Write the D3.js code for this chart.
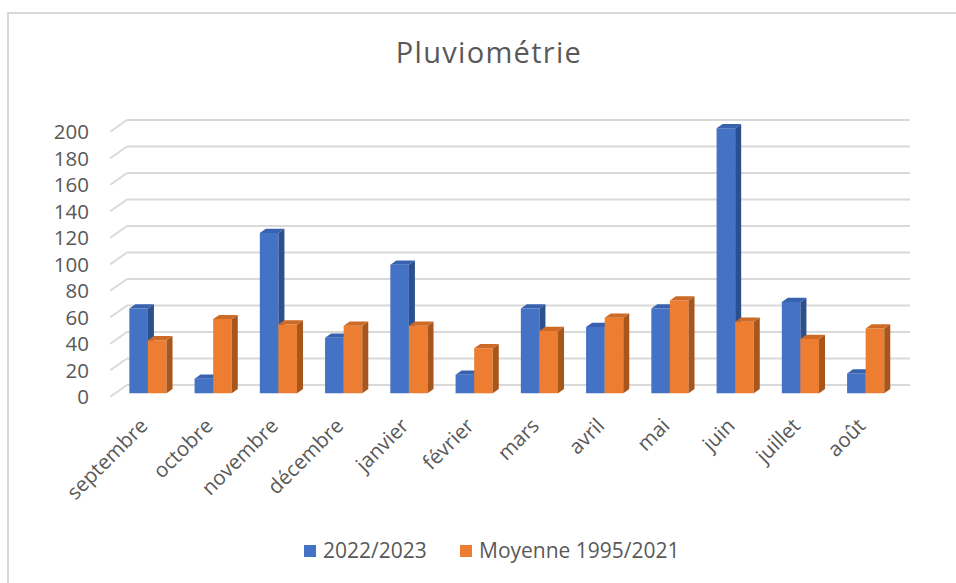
<!DOCTYPE html>
<html>
<head>
<meta charset="utf-8">
<script src="https://cdn.jsdelivr.net/npm/d3@7"></script>
<style>
  body { margin: 0; background: #fff; }
  #chart text { font-family: "Open Sans", sans-serif; fill: #595959; }
</style>
</head>
<body>
<div id="chart"></div>
<script>
// Données
const mois = ['septembre', 'octobre', 'novembre', 'décembre', 'janvier', 'février',
  'mars', 'avril', 'mai', 'juin', 'juillet', 'août'];
const pluie2022 = [64, 11, 121, 42, 97, 14, 64, 50, 64, 200, 69, 15];
const moyenne = [40, 56, 52, 51, 51, 34, 47, 57, 70, 54, 41, 49];
const graduations = [0, 20, 40, 60, 80, 100, 120, 140, 160, 180, 200];
const series = ['2022/2023', 'Moyenne 1995/2021'];

const width = 956;
const height = 583;

// couleurs : face avant, côté, dessus
const couleurs = [
  { face: '#4472C4', cote: '#2C4F8E', dessus: '#3862AE' },
  { face: '#ED7D31', cote: '#A9561C', dessus: '#CD6A26' }
];

// décalages pour l'effet 3D (avant -> arrière)
const sol = { dx: 16.7, dy: -11.7 };
const recul = { dx: 11.7, dy: -8.3 };
const epaisseur = { dx: 6, dy: -4.2 };

const svg = d3.select('#chart')
  .append('svg')
  .attr('width', width)
  .attr('height', height);

// cadre
svg.append('path')
  .attr('d', `M8,${height} L8,13 L${width},13`)
  .attr('fill', 'none')
  .attr('stroke', '#d9d9d9')
  .attr('stroke-width', 2);

svg.append('text')
  .attr('x', 489)
  .attr('y', 63)
  .attr('text-anchor', 'middle')
  .style('font-size', '29px')
  .style('letter-spacing', '1.3px')
  .text('Pluviométrie');

const x = d3.scaleBand()
  .domain(mois)
  .range([127, 910])
  .paddingInner(0.43)
  .paddingOuter(0.215);

const xSerie = d3.scaleBand()
  .domain(series)
  .range([0, x.bandwidth()]);

// échelle du mur du fond
const y = d3.scaleLinear()
  .domain([0, 200])
  .range([385, 120]);

// quadrillage
const grille = svg.append('g');
grille.selectAll('line.h')
  .data(graduations)
  .join('line')
  .attr('class', 'h')
  .attr('x1', 127)
  .attr('x2', 910)
  .attr('y1', d => y(d))
  .attr('y2', d => y(d))
  .attr('stroke', '#d9d9d9')
  .attr('stroke-width', 2);

grille.selectAll('line.d')
  .data(graduations)
  .join('line')
  .attr('class', 'd')
  .attr('x1', 127 - sol.dx)
  .attr('x2', 127)
  .attr('y1', d => y(d) - sol.dy)
  .attr('y2', d => y(d))
  .attr('stroke', '#d9d9d9')
  .attr('stroke-width', 2);

// axe vertical
const axeY = svg.append('g')
  .attr('transform', `translate(89, ${-sol.dy + 0.5})`)
  .call(d3.axisLeft(y).tickValues(graduations).tickSize(0).tickPadding(0));
axeY.select('.domain').remove();
axeY.selectAll('text')
  .style('font-size', '20.5px')
  .attr('fill', '#595959');

// barres
const donnees = mois.map((m, i) => ({ mois: m, valeurs: [pluie2022[i], moyenne[i]] }));

const groupes = svg.append('g')
  .selectAll('g')
  .data(donnees)
  .join('g')
  .attr('transform', d => `translate(${x(d.mois) - recul.dx}, ${-recul.dy})`);

groupes.each(function(d) {
  const g = d3.select(this);
  d.valeurs.forEach((v, k) => {
    const x0 = xSerie(series[k]);
    const x1 = x0 + xSerie.bandwidth();
    const yh = y(v);
    const yb = y(0);
    const c = couleurs[k];
    g.append('path')
      .attr('d', `M${x0},${yb} L${x0},${yh} L${x1},${yh} L${x1},${yb} Z`)
      .attr('fill', c.face);
    g.append('path')
      .attr('d', `M${x1},${yb} L${x1},${yh} L${x1 + epaisseur.dx},${yh + epaisseur.dy} L${x1 + epaisseur.dx},${yb + epaisseur.dy} Z`)
      .attr('fill', c.cote);
    g.append('path')
      .attr('d', `M${x0},${yh} L${x1},${yh} L${x1 + epaisseur.dx},${yh + epaisseur.dy} L${x0 + epaisseur.dx},${yh + epaisseur.dy} Z`)
      .attr('fill', c.dessus);
  });
});

// axe horizontal
const axeX = svg.append('g')
  .attr('transform', `translate(${-recul.dx - 4}, 422)`)
  .call(d3.axisBottom(x).tickSize(0).tickPadding(0));
axeX.select('.domain').remove();
axeX.selectAll('text')
  .attr('y', 0)
  .attr('x', 0)
  .attr('dy', '0.35em')
  .attr('transform', 'rotate(-45)')
  .style('text-anchor', 'end')
  .style('font-size', '20.5px')
  .attr('fill', '#595959');

// légende
const legende = svg.append('g')
  .selectAll('g')
  .data(series)
  .join('g')
  .attr('transform', (d, i) => `translate(${[304, 460][i]}, 551)`);

legende.append('rect')
  .attr('x', 0)
  .attr('y', -6)
  .attr('width', 12)
  .attr('height', 12)
  .attr('fill', (d, i) => couleurs[i].face);

legende.append('text')
  .attr('x', 19)
  .attr('dy', '0.35em')
  .style('font-size', '21px')
  .text(d => d);
</script>
</body>
</html>
